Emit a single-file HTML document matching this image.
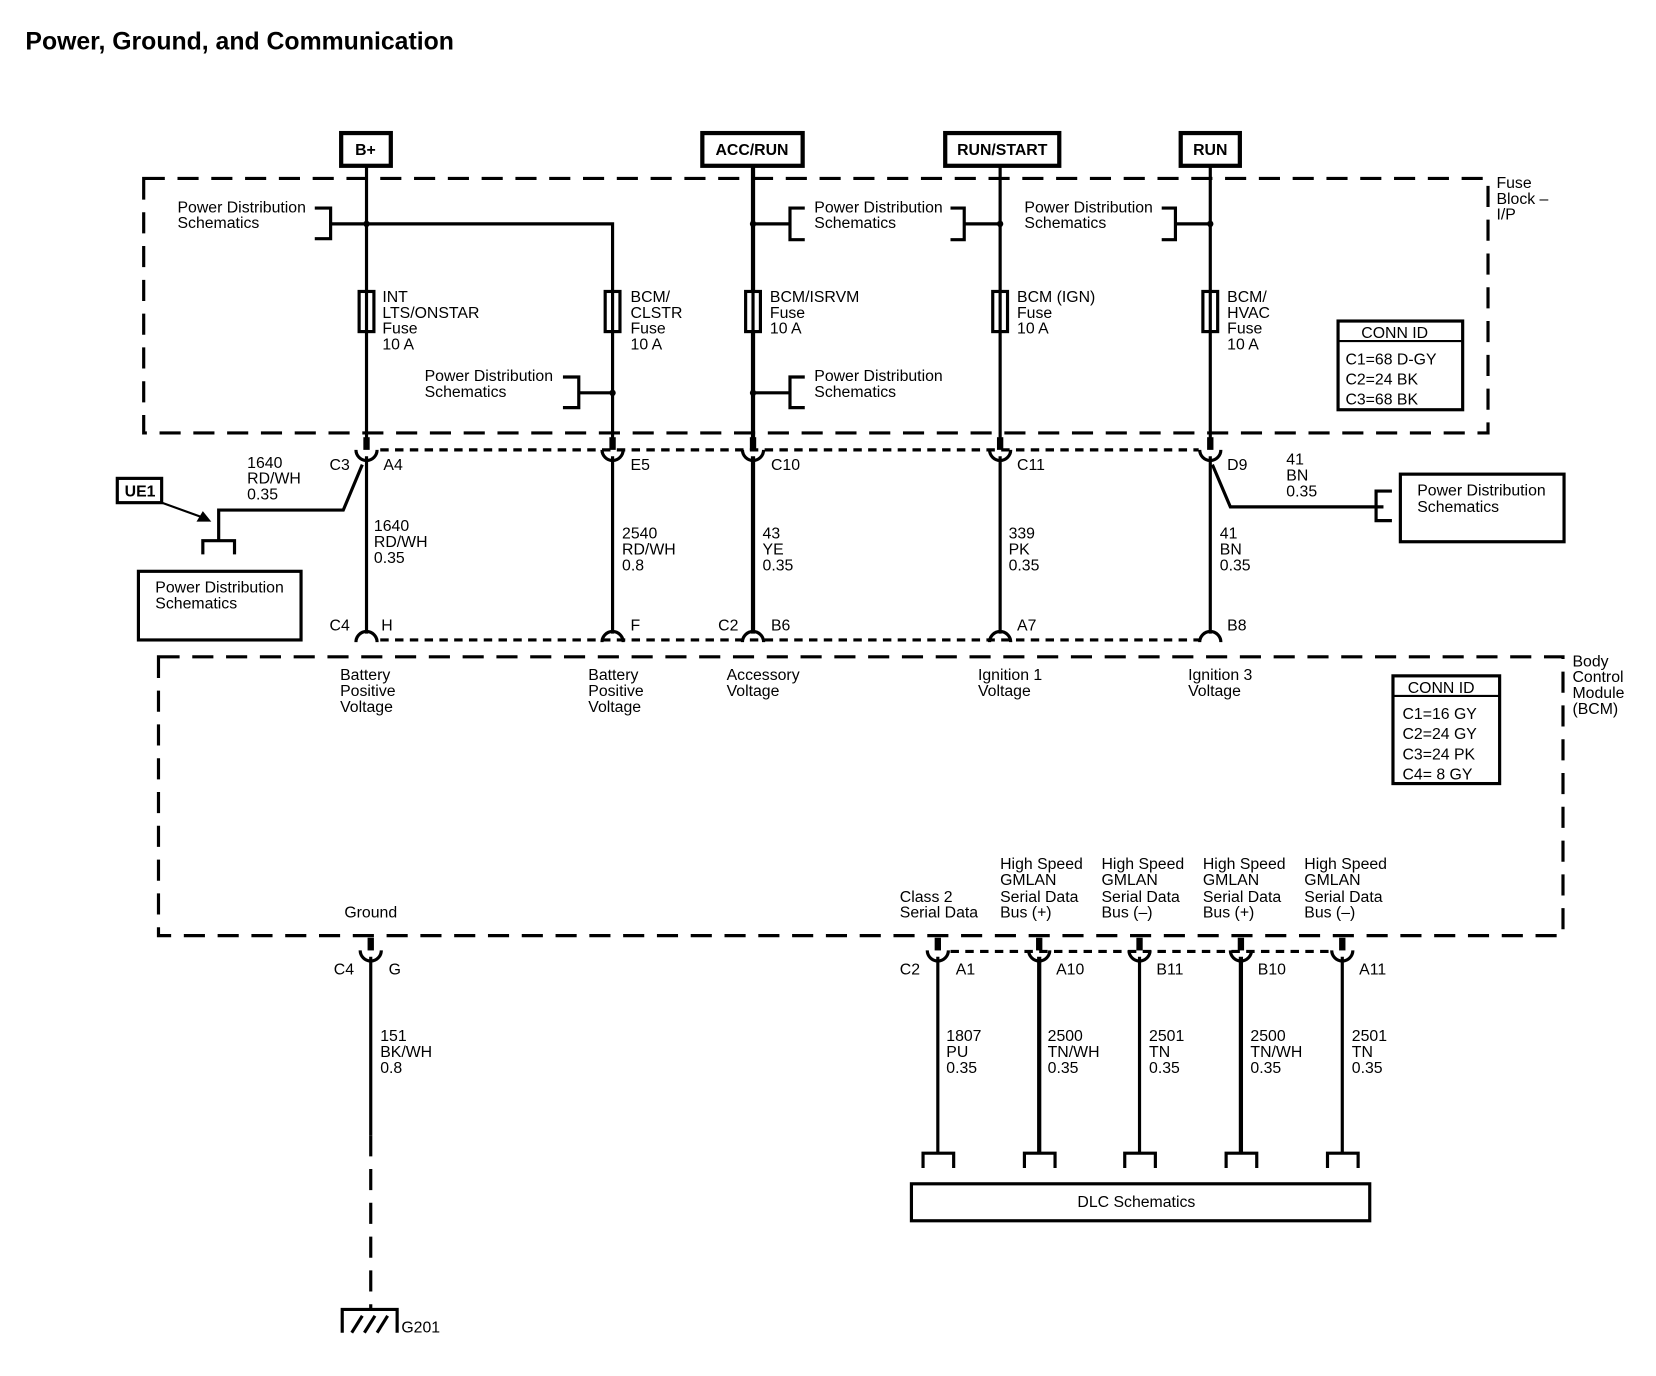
<!DOCTYPE html>
<html><head><meta charset="utf-8"><style>
html,body{margin:0;padding:0;background:#fff;}
svg{display:block;}
text{font-family:"Liberation Sans",Arial,sans-serif;font-size:15px;fill:#000;}
</style></head><body>
<svg width="1656" height="1376" viewBox="0 0 1568 1303" xmlns="http://www.w3.org/2000/svg">
<defs>
<g id="cup"><path d="M-10,-2 A10,10 0 0 0 10,-2" fill="none" stroke="#000" stroke-width="3"/><rect x="-3" y="-14" width="6" height="12" fill="#000"/></g>
<g id="cap"><path d="M-10,8 A10,10 0 0 1 10,8" fill="none" stroke="#000" stroke-width="3"/></g>
</defs>
<text x="24" y="47" style="font-size:23.5px;font-weight:bold">Power, Ground, and Communication</text>

<g fill="none" stroke="#000" stroke-width="4">
<rect x="323" y="126" width="47" height="31"/>
<rect x="665" y="126" width="95" height="31"/>
<rect x="895" y="126" width="108" height="31"/>
<rect x="1118" y="126" width="56" height="31"/>
</g>
<g style="font-size:15px;font-weight:bold" text-anchor="middle">
<text x="346" y="147">B+</text><text x="712" y="147">ACC/RUN</text><text x="949" y="147">RUN/START</text><text x="1146" y="147">RUN</text>
</g>

<rect x="136" y="169" width="1273" height="241" fill="none" stroke="#000" stroke-width="3" stroke-dasharray="20,12"/>
<text x="1417" y="178">Fuse</text><text x="1417" y="193">Block –</text><text x="1417" y="208">I/P</text>

<g stroke="#000" stroke-width="3" fill="none">
<line x1="347" y1="157" x2="347" y2="425"/>
<polyline points="347,212 580,212 580,425"/>
<line x1="713" y1="157" x2="713" y2="425" stroke-width="4"/>
<line x1="947" y1="157" x2="947" y2="425"/>
<line x1="1146" y1="157" x2="1146" y2="425"/>
<polyline points="298,197 313,197 313,226 298,226"/><line x1="313" y1="212" x2="347" y2="212"/>
<polyline points="762,197 748,197 748,227 762,227"/><line x1="713" y1="212" x2="748" y2="212"/>
<polyline points="900,197 913,197 913,227 900,227"/><line x1="913" y1="212" x2="947" y2="212"/>
<polyline points="1100,197 1113,197 1113,227 1100,227"/><line x1="1113" y1="212" x2="1146" y2="212"/>
<polyline points="533,357 548,357 548,386 533,386"/><line x1="548" y1="372" x2="580" y2="372"/>
<polyline points="762,357 748,357 748,386 762,386"/><line x1="713" y1="372" x2="748" y2="372"/>
</g>
<g fill="#000"><circle cx="347" cy="212" r="3"/><circle cx="713" cy="212" r="3"/><circle cx="947" cy="212" r="3"/><circle cx="1146" cy="212" r="3"/><circle cx="580" cy="372" r="3"/><circle cx="713" cy="372" r="3"/></g>
<text x="168" y="201">Power Distribution</text><text x="168" y="216">Schematics</text>
<text x="771" y="201">Power Distribution</text><text x="771" y="216">Schematics</text>
<text x="970" y="201">Power Distribution</text><text x="970" y="216">Schematics</text>
<text x="402" y="361">Power Distribution</text><text x="402" y="376">Schematics</text>
<text x="771" y="361">Power Distribution</text><text x="771" y="376">Schematics</text>

<g fill="#fff" stroke="#000" stroke-width="3">
<rect x="340" y="276" width="14" height="38"/><rect x="573" y="276" width="14" height="38"/><rect x="706" y="276" width="14" height="38"/><rect x="940" y="276" width="14" height="38"/><rect x="1139" y="276" width="14" height="38"/>
</g>
<g stroke="#000" stroke-width="3"><line x1="347" y1="276" x2="347" y2="314"/><line x1="580" y1="276" x2="580" y2="314"/><line x1="713" y1="276" x2="713" y2="314"/><line x1="947" y1="276" x2="947" y2="314"/><line x1="1146" y1="276" x2="1146" y2="314"/></g>
<text x="362" y="286">INT</text><text x="362" y="301">LTS/ONSTAR</text><text x="362" y="316">Fuse</text><text x="362" y="331">10 A</text>
<text x="597" y="286">BCM/</text><text x="597" y="301">CLSTR</text><text x="597" y="316">Fuse</text><text x="597" y="331">10 A</text>
<text x="729" y="286">BCM/ISRVM</text><text x="729" y="301">Fuse</text><text x="729" y="316">10 A</text>
<text x="963" y="286">BCM (IGN)</text><text x="963" y="301">Fuse</text><text x="963" y="316">10 A</text>
<text x="1162" y="286">BCM/</text><text x="1162" y="301">HVAC</text><text x="1162" y="316">Fuse</text><text x="1162" y="331">10 A</text>

<rect x="1267" y="304" width="118" height="84" fill="none" stroke="#000" stroke-width="3"/>
<line x1="1267" y1="323" x2="1385" y2="323" stroke="#000" stroke-width="2"/>
<g style="font-size:18px"><text x="1289" y="320">CONN ID</text><text x="1274" y="345">C1=68 D-GY</text><text x="1274" y="364">C2=24 BK</text><text x="1274" y="383">C3=68 BK</text></g>

<line x1="360" y1="426" x2="1135" y2="426" stroke="#000" stroke-width="3" stroke-dasharray="8,6"/>
<use href="#cup" x="347" y="428"/><use href="#cup" x="580" y="428"/><use href="#cup" x="713" y="428"/><use href="#cup" x="947" y="428"/><use href="#cup" x="1146" y="428"/>
<text x="312" y="445">C3</text><text x="363" y="445">A4</text><text x="597" y="445">E5</text><text x="730" y="445">C10</text><text x="963" y="445">C11</text><text x="1162" y="445">D9</text>

<g stroke="#000" stroke-width="3" fill="none">
<line x1="347" y1="432" x2="347" y2="600"/><line x1="580" y1="432" x2="580" y2="600"/><line x1="713" y1="432" x2="713" y2="600" stroke-width="4"/><line x1="947" y1="432" x2="947" y2="600"/><line x1="1146" y1="432" x2="1146" y2="600"/>
<polyline points="343,440 325,483 207,483 207,512"/>
<polyline points="192,525 192,512 222,512 222,525"/>
<polyline points="1148,440 1165,480 1310,480"/>
<polyline points="1318,465 1303,465 1303,493 1318,493"/>
</g>
<rect x="111" y="453" width="42" height="23" fill="none" stroke="#000" stroke-width="3"/>
<text x="118" y="470" style="font-weight:bold">UE1</text>
<line x1="153" y1="476" x2="192" y2="490" stroke="#000" stroke-width="2"/>
<polygon points="200,494 186,494 192,484" fill="#000"/>
<text x="234" y="443">1640</text><text x="234" y="458">RD/WH</text><text x="234" y="473">0.35</text>
<text x="1218" y="440">41</text><text x="1218" y="455">BN</text><text x="1218" y="470">0.35</text>
<rect x="131" y="541" width="154" height="65" fill="none" stroke="#000" stroke-width="3"/>
<text x="147" y="561">Power Distribution</text><text x="147" y="576">Schematics</text>
<rect x="1326" y="449" width="155" height="64" fill="none" stroke="#000" stroke-width="3"/>
<text x="1342" y="469">Power Distribution</text><text x="1342" y="485">Schematics</text>
<text x="354" y="503">1640</text><text x="354" y="518">RD/WH</text><text x="354" y="533">0.35</text>
<text x="589" y="510">2540</text><text x="589" y="525">RD/WH</text><text x="589" y="540">0.8</text>
<text x="722" y="510">43</text><text x="722" y="525">YE</text><text x="722" y="540">0.35</text>
<text x="955" y="510">339</text><text x="955" y="525">PK</text><text x="955" y="540">0.35</text>
<text x="1155" y="510">41</text><text x="1155" y="525">BN</text><text x="1155" y="540">0.35</text>

<line x1="360" y1="606" x2="1135" y2="606" stroke="#000" stroke-width="3" stroke-dasharray="8,6"/>
<use href="#cap" x="347" y="600"/><use href="#cap" x="580" y="600"/><use href="#cap" x="713" y="600"/><use href="#cap" x="947" y="600"/><use href="#cap" x="1146" y="600"/>
<text x="312" y="597">C4</text><text x="361" y="597">H</text><text x="597" y="597">F</text><text x="680" y="597">C2</text><text x="730" y="597">B6</text><text x="963" y="597">A7</text><text x="1162" y="597">B8</text>

<rect x="150" y="622" width="1330" height="264" fill="none" stroke="#000" stroke-width="3" stroke-dasharray="20,12"/>
<text x="1489" y="631">Body</text><text x="1489" y="646">Control</text><text x="1489" y="661">Module</text><text x="1489" y="676">(BCM)</text>
<text x="322" y="644">Battery</text><text x="322" y="659">Positive</text><text x="322" y="674">Voltage</text>
<text x="557" y="644">Battery</text><text x="557" y="659">Positive</text><text x="557" y="674">Voltage</text>
<text x="688" y="644">Accessory</text><text x="688" y="659">Voltage</text>
<text x="926" y="644">Ignition 1</text><text x="926" y="659">Voltage</text>
<text x="1125" y="644">Ignition 3</text><text x="1125" y="659">Voltage</text>
<rect x="1319" y="640" width="101" height="102" fill="none" stroke="#000" stroke-width="3"/>
<line x1="1319" y1="659" x2="1420" y2="659" stroke="#000" stroke-width="2"/>
<g style="font-size:18px"><text x="1333" y="656">CONN ID</text><text x="1328" y="681">C1=16 GY</text><text x="1328" y="700">C2=24 GY</text><text x="1328" y="719">C3=24 PK</text><text x="1328" y="738">C4=  8 GY</text></g>
<text x="326" y="869">Ground</text>
<text x="852" y="854">Class 2</text><text x="852" y="869">Serial Data</text>
<g><text x="947" y="823">High Speed</text><text x="947" y="838">GMLAN</text><text x="947" y="854">Serial Data</text><text x="947" y="869">Bus (+)</text>
<text x="1043" y="823">High Speed</text><text x="1043" y="838">GMLAN</text><text x="1043" y="854">Serial Data</text><text x="1043" y="869">Bus (–)</text>
<text x="1139" y="823">High Speed</text><text x="1139" y="838">GMLAN</text><text x="1139" y="854">Serial Data</text><text x="1139" y="869">Bus (+)</text>
<text x="1235" y="823">High Speed</text><text x="1235" y="838">GMLAN</text><text x="1235" y="854">Serial Data</text><text x="1235" y="869">Bus (–)</text></g>

<line x1="900" y1="901" x2="1260" y2="901" stroke="#000" stroke-width="3" stroke-dasharray="8,6"/>
<use href="#cup" x="351" y="902"/><use href="#cup" x="888" y="902"/><use href="#cup" x="984" y="902"/><use href="#cup" x="1079" y="902"/><use href="#cup" x="1175" y="902"/><use href="#cup" x="1271" y="902"/>
<text x="316" y="923">C4</text><text x="368" y="923">G</text><text x="852" y="923">C2</text><text x="905" y="923">A1</text><text x="1000" y="923">A10</text><text x="1095" y="923">B11</text><text x="1191" y="923">B10</text><text x="1287" y="923">A11</text>
<g stroke="#000" stroke-width="3" fill="none">
<line x1="351" y1="906" x2="351" y2="1075"/>
<line x1="351" y1="1075" x2="351" y2="1240" stroke-dasharray="20,12"/>
<line x1="888" y1="906" x2="888" y2="1092"/><line x1="984" y1="906" x2="984" y2="1092" stroke-width="4"/><line x1="1079" y1="906" x2="1079" y2="1092"/><line x1="1175" y1="906" x2="1175" y2="1092" stroke-width="4"/><line x1="1271" y1="906" x2="1271" y2="1092"/>
<polyline points="874,1106 874,1092 903,1092 903,1106"/>
<polyline points="970,1106 970,1092 999,1092 999,1106"/>
<polyline points="1065,1106 1065,1092 1094,1092 1094,1106"/>
<polyline points="1161,1106 1161,1092 1190,1092 1190,1106"/>
<polyline points="1257,1106 1257,1092 1286,1092 1286,1106"/>
<polyline points="324,1262 324,1240 376,1240 376,1262"/>
<line x1="333" y1="1262" x2="343" y2="1246"/><line x1="345" y1="1262" x2="355" y2="1246"/><line x1="357" y1="1262" x2="367" y2="1246"/>
</g>
<text x="380" y="1262">G201</text>
<text x="360" y="986">151</text><text x="360" y="1001">BK/WH</text><text x="360" y="1016">0.8</text>
<text x="896" y="986">1807</text><text x="896" y="1001">PU</text><text x="896" y="1016">0.35</text>
<text x="992" y="986">2500</text><text x="992" y="1001">TN/WH</text><text x="992" y="1016">0.35</text>
<text x="1088" y="986">2501</text><text x="1088" y="1001">TN</text><text x="1088" y="1016">0.35</text>
<text x="1184" y="986">2500</text><text x="1184" y="1001">TN/WH</text><text x="1184" y="1016">0.35</text>
<text x="1280" y="986">2501</text><text x="1280" y="1001">TN</text><text x="1280" y="1016">0.35</text>
<rect x="863" y="1121" width="434" height="35" fill="none" stroke="#000" stroke-width="3"/>
<text x="1076" y="1143" text-anchor="middle">DLC Schematics</text>
</svg>
</body></html>
